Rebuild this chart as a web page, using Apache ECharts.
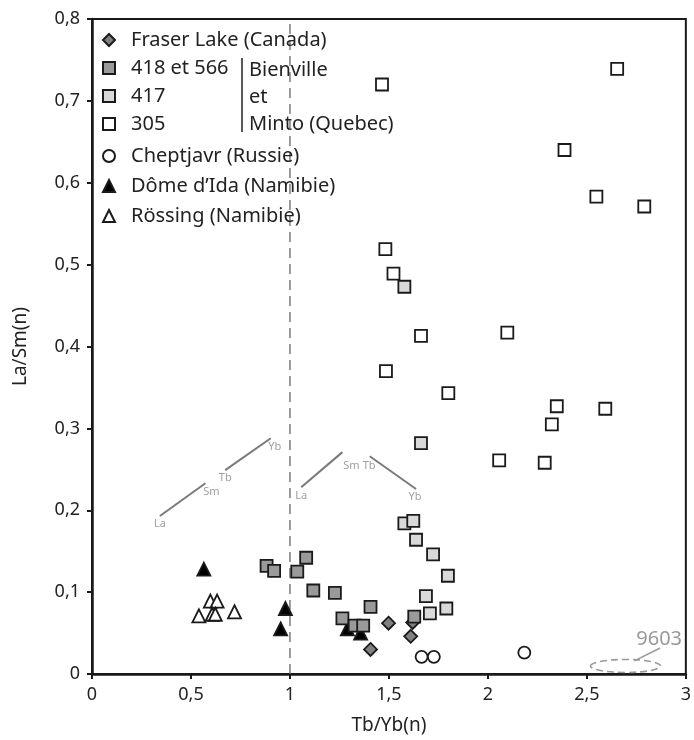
<!DOCTYPE html>
<html><head><meta charset="utf-8">
<script src="https://cdn.jsdelivr.net/npm/echarts@6/dist/echarts.min.js"></script>
<style>html,body{margin:0;padding:0;background:#fff}#c{width:694px;height:740px}</style>
</head><body><div id="c"></div>
<script>
// ---- data (Tb/Yb(n), La/Sm(n)) ----
const fraserLake = [[1.407,0.030],[1.498,0.062],[1.61,0.046],[1.62,0.063]];
const bienville418 = [[0.882,0.132],[0.92,0.126],[1.037,0.125],[1.082,0.142],[1.118,0.102],[1.227,0.099],[1.265,0.068],[1.327,0.059],[1.37,0.059],[1.407,0.082],[1.628,0.070]];
const bienville417 = [[1.578,0.473],[1.662,0.282],[1.578,0.184],[1.623,0.187],[1.637,0.164],[1.723,0.146],[1.798,0.120],[1.687,0.095],[1.79,0.080],[1.707,0.074]];
const bienville305 = [[1.465,0.720],[2.653,0.739],[2.387,0.640],[2.548,0.583],[2.79,0.571],[1.482,0.519],[1.523,0.489],[1.662,0.413],[2.098,0.417],[1.485,0.370],[1.80,0.343],[2.348,0.327],[2.593,0.324],[2.323,0.305],[2.057,0.261],[2.287,0.258]];
const cheptjavr = [[1.665,0.021],[1.727,0.021],[2.184,0.026]];
const domeIda = [[0.565,0.128],[0.977,0.080],[0.953,0.055],[1.29,0.055],[1.357,0.050]];
const rossing = [[0.598,0.089],[0.632,0.089],[0.54,0.071],[0.607,0.073],[0.623,0.073],[0.72,0.076]];

const seriesNames = ['Fraser Lake (Canada)','418 et 566','417','305','Cheptjavr (Russie)','D\u00f4me d\u2019Ida (Namibie)','R\u00f6ssing (Namibie)'];
const xTickLabels = ['0','0,5','1','1,5','2','2,5','3'];
const yTickLabels = ['0','0,1','0,2','0,3','0,4','0,5','0,6','0,7','0,8'];
const refLineX = 1;

// REE pattern sketches (annotation, data coordinates)
const sketchSegments = [
  [[0.343,0.193],[0.573,0.233]],
  [[0.673,0.249],[0.903,0.288]],
  [[1.057,0.228],[1.265,0.271]],
  [[1.403,0.266],[1.637,0.226]]
];
const sketchLabels = [
  {name:'La', value:[0.343,0.183]},{name:'Sm', value:[0.603,0.222]},
  {name:'Tb', value:[0.673,0.239]},{name:'Yb', value:[0.923,0.277]},
  {name:'La', value:[1.057,0.217]},{name:'Sm', value:[1.31,0.254]},
  {name:'Tb', value:[1.40,0.254]},{name:'Yb', value:[1.632,0.216]}
];
const note9603 = {text:'9603', center:[2.695,0.0098], leaderFrom:[2.74,0.016], leaderTo:[2.87,0.0317], labelAt:[2.865,0.0427]};

const FONT = 'Noto Sans';
const chart = echarts.init(document.getElementById('c'), null, {renderer:'canvas'});

function sc(name, data, symbol, fill, size, z) {
  return {type:'scatter', name, data, symbol, symbolSize:size, z,
    itemStyle:{color:fill, borderColor:'#1a1a1a', borderWidth:1.8, opacity:1},
    emphasis:{disabled:true}};
}
const series = [
  {type:'line', data:[[refLineX,0],[refLineX,0.8]], symbol:'none', silent:true, z:1,
   lineStyle:{color:'#666', width:1.3, type:[10,6]}},
  ...sketchSegments.map(s=>({type:'line', data:s, symbol:'none', silent:true, z:1,
   lineStyle:{color:'#7a7a7a', width:2}})),
  {type:'scatter', data:sketchLabels, symbolSize:2, silent:true, z:1,
   itemStyle:{color:'rgba(0,0,0,0)'},
   label:{show:true, position:'inside', formatter:p=>p.name, color:'#888', fontSize:11, fontFamily:FONT}},
  sc(seriesNames[0], fraserLake, 'diamond', '#808080', 13, 2),
  sc(seriesNames[1], bienville418, 'rect', '#9a9a9a', 12, 4),
  sc(seriesNames[2], bienville417, 'rect', '#d9d9d9', 12, 4),
  sc(seriesNames[3], bienville305, 'rect', '#ffffff', 12, 3),
  sc(seriesNames[4], cheptjavr, 'circle', '#ffffff', 12, 2),
  sc(seriesNames[5], domeIda, 'triangle', '#000000', 13, 2),
  sc(seriesNames[6], rossing, 'triangle', '#ffffff', 13, 2)
];

const legendText = {fontSize:20, color:'#222', fontFamily:FONT, lineHeight:20, padding:[0,0,0,11]};
chart.setOption({
  animation:false,
  backgroundColor:'#fff',
  grid:{left:92, right:2, top:19, bottom:65, show:true, borderColor:'#1a1a1a', borderWidth:2},
  legend:[
    {data:seriesNames.slice(0,4), orient:'vertical', left:97, top:25, itemWidth:12, itemHeight:12, itemGap:8,
     symbolKeepAspect:true, textStyle:legendText, selectedMode:false},
    {data:seriesNames.slice(4), orient:'vertical', left:97, top:141, itemWidth:12, itemHeight:12, itemGap:10,
     symbolKeepAspect:true, textStyle:legendText, selectedMode:false}
  ],
  xAxis:{type:'value', min:0, max:3, interval:0.5,
    axisLine:{show:true, onZero:false, lineStyle:{color:'#1a1a1a', width:2.5}},
    axisTick:{show:true, length:5, lineStyle:{color:'#1a1a1a', width:2}},
    axisLabel:{formatter:v=>xTickLabels[Math.round(v/0.5)], fontSize:18, color:'#222', fontFamily:FONT, margin:12},
    splitLine:{show:false},
    name:'Tb/Yb(n)', nameLocation:'middle', nameGap:42,
    nameTextStyle:{fontSize:19, color:'#222', fontFamily:FONT}},
  yAxis:{type:'value', min:0, max:0.8, interval:0.1,
    axisLine:{show:true, onZero:false, lineStyle:{color:'#1a1a1a', width:2.5}},
    axisTick:{show:true, length:5, lineStyle:{color:'#1a1a1a', width:2}},
    axisLabel:{formatter:v=>yTickLabels[Math.round(v/0.1)], fontSize:18, color:'#222', fontFamily:FONT, margin:12},
    splitLine:{show:false},
    name:'La/Sm(n)', nameLocation:'middle', nameGap:62, nameRotate:90,
    nameTextStyle:{fontSize:19, color:'#222', fontFamily:FONT}},
  series
});

const px = p => chart.convertToPixel({gridIndex:0}, p);
const c = px(note9603.center), l1 = px(note9603.leaderFrom), l2 = px(note9603.leaderTo), lt = px(note9603.labelAt);
chart.setOption({graphic:[
  {type:'line', shape:{x1:242, y1:58, x2:242, y2:132}, style:{stroke:'#222', lineWidth:1.5}, silent:true},
  {type:'text', x:249, y:70, style:{text:'Bienville', font:'20px "'+FONT+'"', fill:'#222', verticalAlign:'middle'}, silent:true},
  {type:'text', x:249, y:97, style:{text:'et', font:'20px "'+FONT+'"', fill:'#222', verticalAlign:'middle'}, silent:true},
  {type:'text', x:249, y:124, style:{text:'Minto (Quebec)', font:'20px "'+FONT+'"', fill:'#222', verticalAlign:'middle'}, silent:true},
  {type:'ellipse', shape:{cx:c[0], cy:c[1], rx:35, ry:6.5},
   style:{fill:'none', stroke:'#999', lineWidth:1.6, lineDash:[7,4]}, silent:true, z:10},
  {type:'line', shape:{x1:l1[0], y1:l1[1], x2:l2[0], y2:l2[1]}, style:{stroke:'#999', lineWidth:1.5}, silent:true},
  {type:'text', x:lt[0], y:lt[1], style:{text:note9603.text, font:'20px "'+FONT+'"', fill:'#999', align:'center', verticalAlign:'middle'}, silent:true}
]});
</script></body></html>
